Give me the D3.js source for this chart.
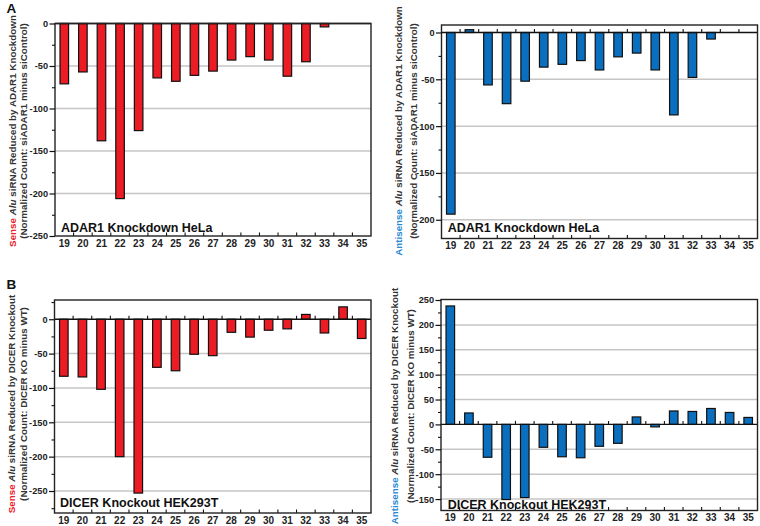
<!DOCTYPE html>
<html><head><meta charset="utf-8">
<script src="https://cdn.jsdelivr.net/npm/d3@7"></script>
<style>
html,body{margin:0;padding:0;background:#fff;}
svg{display:block;font-family:"Liberation Sans",Arial,Helvetica,sans-serif;}
</style></head>
<body><svg id="c" width="760" height="526"></svg>
<script>
// ---- data ----
const categories = ["19","20","21","22","23","24","25","26","27","28","29","30","31","32","33","34","35"];
const senseADAR1 = [-71,-57,-138,-206,-126,-64,-68,-61,-56,-43,-39,-43,-62,-45,-4,0,0];
const antisenseADAR1 = [-194,3,-56,-76,-52,-37,-34,-30,-40,-26,-22,-40,-88,-48,-7,0,0];
const senseDICER = [-83,-84,-102,-200,-253,-70,-75,-51,-53,-19,-26,-16,-14,7,-20,18,-28];
const antisenseDICER = [238,23,-66,-151,-147,-46,-65,-67,-44,-38,15,-5,27,26,32,24,14];
const ticksA1 = [0,-50,-100,-150,-200,-250];
const ticksA2 = [0,-50,-100,-150,-200];
const ticksB1 = [0,-50,-100,-150,-200,-250];
const ticksB2 = [250,200,150,100,50,0,-50,-100,-150];
const strandLabels = ["Sense","Antisense"];
const titleLine1 = [" siRNA Reduced by ADAR1 Knockdown"," siRNA Reduced by DICER Knockout"];
const titleLine2 = ["(Normalized Count: siADAR1 minus siControl)","(Normalized Count: DICER KO minus WT)"];
const panelNames = ["ADAR1 Knockdown HeLa","DICER Knockout HEK293T"];
const panelLetters = ["A","B"];

const RED = "#ec1c24", BLUE = "#0b6fbf";
const RED_T = "#ec2027", BLUE_T = "#2389d4";
const FONT = "'Liberation Sans', Arial, sans-serif";

const svg = d3.select("#c");
svg.append("rect").attr("width",760).attr("height",526).attr("fill","#fff");

const panels = [
  {values: senseADAR1, ticks: ticksA1, dom: [-250,0], box: [55,371,23.5,236], fill: RED, strand: 0, exp: 0, t1x: 16, t2x: 27, ty: 131, lx: 6, ly: 232},
  {values: antisenseADAR1, ticks: ticksA2, dom: [-220,8], box: [441.5,757.5,25,238.5], fill: BLUE, strand: 1, exp: 0, t1x: 402, t2x: 417, ty: 131, lx: 6.2, ly: 232},
  {values: senseDICER, ticks: ticksB1, dom: [-282,28], box: [54.5,371,300,513], fill: RED, strand: 0, exp: 1, t1x: 14.5, t2x: 26.5, ty: 404, lx: 5.5, ly: 507},
  {values: antisenseDICER, ticks: ticksB2, dom: [-173,251], box: [441,757.5,299.5,510.5], fill: BLUE, strand: 1, exp: 1, t1x: 398, t2x: 413.5, ty: 406, lx: 6.7, ly: 508.5}
];

const fmt = v => String(v);

panels.forEach(p => {
  const [x0,x1,y0,y1] = p.box;
  const g = svg.append("g");
  const x = d3.scaleBand().domain(categories).range([x0,x1]).paddingInner(0.54).paddingOuter(0.27);
  const y = d3.scaleLinear().domain(p.dom).range([y1,y0]);
  const data = categories.map((c,i)=>({c, v: p.values[i]}));

  // gridlines
  g.selectAll("line.grid").data(p.ticks.filter(t => t!==0 && Math.abs(y(t)-y0)>1 && Math.abs(y(t)-y1)>1))
    .join("line").attr("class","grid")
    .attr("x1",x0).attr("x2",x1).attr("y1",d=>y(d)).attr("y2",d=>y(d))
    .attr("stroke","#c6c6c6").attr("stroke-width",1.5);

  // bars
  g.selectAll("rect.bar").data(data.filter(d=>d.v!==0)).join("rect").attr("class","bar")
    .attr("x",d=>x(d.c)).attr("width",x.bandwidth())
    .attr("y",d=>Math.min(y(d.v),y(0))).attr("height",d=>Math.abs(y(d.v)-y(0)))
    .attr("fill",p.fill).attr("stroke","#111").attr("stroke-width",1.2);

  // zero line
  g.append("line").attr("x1",x0).attr("x2",x1).attr("y1",y(0)).attr("y2",y(0))
    .attr("stroke","#111").attr("stroke-width",1.4);

  // category boundary ticks (bottom axis and zero line), pointing up
  const bounds = categories.slice(1).map(c => x(c) - x.step()*x.paddingInner()/2);
  [y1, y(0)].forEach(yy => {
    if (Math.abs(yy - y0) < 1) return;
    g.selectAll(null).data(bounds).join("line")
      .attr("x1",d=>d).attr("x2",d=>d).attr("y1",yy).attr("y2",yy-3.5)
      .attr("stroke","#111").attr("stroke-width",1.1);
  });

  // frame
  g.append("rect").attr("x",x0).attr("y",y0).attr("width",x1-x0).attr("height",y1-y0)
    .attr("fill","none").attr("stroke","#222").attr("stroke-width",1.4);

  // y axis
  const minor = [];
  p.ticks.forEach(t => [t-25,t+25].forEach(m => {
    if (m>=p.dom[0] && m<=p.dom[1] && !p.ticks.includes(m) && !minor.includes(m)) minor.push(m);
  }));
  const yMinor = g.append("g").attr("transform",`translate(${x0},0)`)
    .call(d3.axisLeft(y).tickValues(minor).tickSize(3).tickFormat(""));
  yMinor.select(".domain").remove();
  yMinor.selectAll("line").attr("stroke","#111").attr("stroke-width",1.1);
  const yAx = g.append("g").attr("transform",`translate(${x0},0)`)
    .call(d3.axisLeft(y).tickValues(p.ticks).tickSize(5.5).tickPadding(1.5).tickFormat(fmt));
  yAx.select(".domain").remove();
  yAx.selectAll("line").attr("stroke","#111").attr("stroke-width",1.2);
  yAx.selectAll("text").attr("font-size","9.2px").attr("font-weight","bold").attr("fill","#222")
    .attr("font-family",FONT);

  // x axis labels
  const xAx = g.append("g").attr("transform",`translate(0,${y1})`)
    .call(d3.axisBottom(x).tickSize(0).tickPadding(3.5));
  xAx.select(".domain").remove();
  xAx.selectAll("text").attr("font-size","10px").attr("font-weight","bold").attr("fill","#222")
    .attr("font-family",FONT);

  // inner label
  g.append("text").attr("x",x0+p.lx).attr("y",p.ly).attr("font-family",FONT)
    .attr("font-size","12.5px").attr("font-weight","bold").attr("fill","#111")
    .text(panelNames[p.exp]);

  // y title
  const t1 = g.append("text").attr("transform",`translate(${p.t1x},${p.ty}) rotate(-90)`).attr("font-family",FONT)
    .attr("text-anchor","middle").attr("font-size","9.8px").attr("font-weight","bold").attr("fill","#333");
  t1.append("tspan").attr("fill", p.strand===0?RED_T:BLUE_T).text(strandLabels[p.strand]);
  t1.append("tspan").text(" ");
  t1.append("tspan").attr("font-style","italic").text("Alu");
  t1.append("tspan").text(titleLine1[p.exp]);
  g.append("text").attr("transform",`translate(${p.t2x},${p.ty}) rotate(-90)`).attr("font-family",FONT)
    .attr("text-anchor","middle").attr("font-size","9.8px").attr("font-weight","bold").attr("fill","#333")
    .text(titleLine2[p.exp]);
});

// panel letters
svg.selectAll("text.letter").data(panelLetters).join("text").attr("class","letter")
  .attr("x",6.5).attr("y",(d,i)=> i===0 ? 13 : 288.5).attr("font-family",FONT)
  .attr("font-size","13.5px").attr("font-weight","bold").attr("fill","#111").text(d=>d);
</script></body></html>
